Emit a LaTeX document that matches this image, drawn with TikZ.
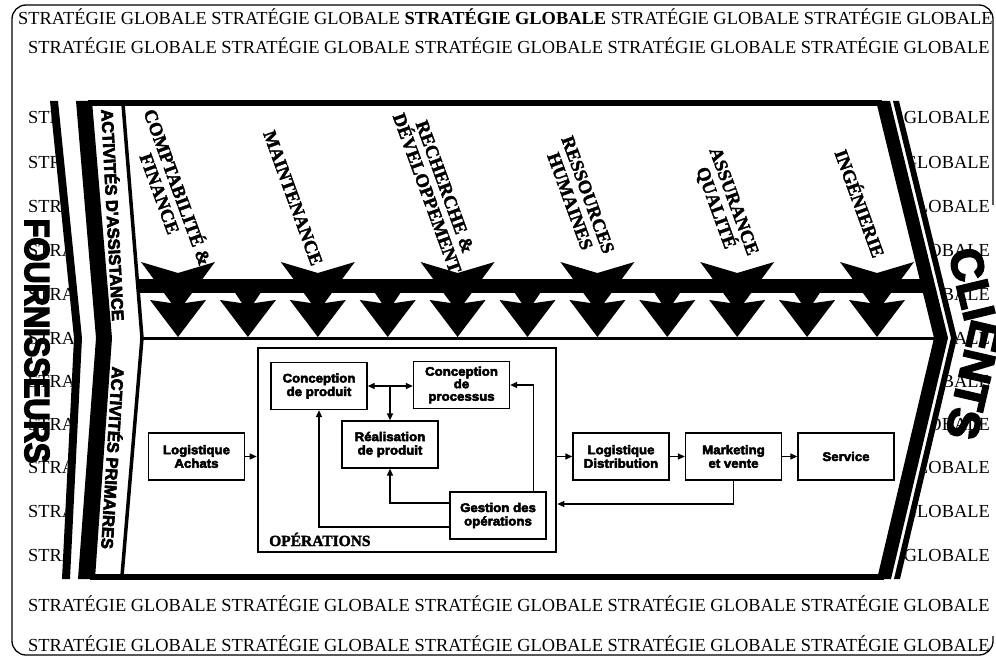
\documentclass[tikz,border=0pt]{standalone}
\usepackage{fontspec}
\setmainfont{Liberation Serif}
\newfontfamily\heavyfont{Liberation Sans}[BoldFeatures={FakeBold=4}]
\newfontfamily\bigfont{Liberation Sans}[BoldFeatures={FakeBold=4,FakeStretch=0.88}]
\newfontfamily\boxfont{Liberation Sans}[BoldFeatures={FakeBold=4,FakeStretch=1.06}]
\newfontfamily\labelserif{Liberation Serif}[BoldFeatures={FakeBold=2}]
\usetikzlibrary{arrows.meta}
\newcommand\stratrow{STRATÉGIE GLOBALE STRATÉGIE GLOBALE STRATÉGIE GLOBALE STRATÉGIE GLOBALE STRATÉGIE GLOBALE}
\newcommand\stratrowbold{STRATÉGIE GLOBALE STRATÉGIE GLOBALE \textbf{STRATÉGIE GLOBALE} STRATÉGIE GLOBALE STRATÉGIE GLOBALE}
\begin{document}
\begin{tikzpicture}[x=1pt,y=-1pt,
  strat/.style={inner sep=0pt,font=\fontsize{18.4}{18.4}\selectfont},
  suplabel/.style={rotate=-70,align=center,inner sep=0pt,font=\labelserif\bfseries\fontsize{18.5}{19}\selectfont},
  sidelabel/.style={inner sep=0pt,font=\heavyfont\bfseries\fontsize{16.5}{16.5}\selectfont},
  bigword/.style={inner sep=0pt,font=\bigfont\bfseries\fontsize{35}{35}\selectfont},
  clientword/.style={inner sep=0pt,font=\heavyfont\bfseries\fontsize{45}{45}\selectfont},
  activity/.style={draw,line width=1.3pt,minimum width=96pt,minimum height=47pt,align=center,inner sep=1pt,
    font=\boxfont\bfseries\fontsize{12.5}{13.5}\selectfont},
  flow/.style={line width=1.3pt,-{Triangle[length=7pt,width=6pt]}},
  twoflow/.style={line width=1.3pt,{Triangle[length=7pt,width=6pt]}-{Triangle[length=7pt,width=6pt]}},
]
% page
\fill[white] (0,0) rectangle (996,658);
\useasboundingbox (0,0) rectangle (996,658);

% outer frame, its right side only shown near the corners
\draw[line width=1.3pt,rounded corners=14pt]
  (993,205) -- (993,5) -- (12,5) -- (12,655) -- (993,655) -- (993,636);

% background strategy rows
\node[strat,anchor=base west] (r1) at (18,25) {\stratrowbold};
\foreach \yy [count=\i] in {54,611,651}
  \node[strat,anchor=base west] (full\i) at (28,\yy) {\stratrow};
\foreach \yy [count=\i] in {124,168,212,256,300,344,387,430,473,517,561} {
  \node[strat,anchor=base west] (left\i) at (28,\yy) {STRA};
  \node[strat,anchor=base east] (right\i) at (990,\yy) {GLOBALE};
}

% value chain body
\fill[white] (50,101) -- (899,101) -- (957,338) -- (900,579) -- (62,579) -- (74,338) -- cycle;

% big side words
\node[bigword,rotate=-90] (fourn) at (37,341) {FOURNISSEURS};
\node[clientword,rotate=-76.5] (cli) at (972,284) {CLI};
\node[clientword,rotate=-103] (ents) at (974,380) {ENTS};

% band of arrows feeding the primary activities
\begin{scope}
  \clip (123,103) -- (880,103) -- (940,338) -- (880,578) -- (122,578) -- (142,338) -- cycle;
  \fill (120,278.5) rectangle (945,293);
  \foreach \k in {0,...,10} {
    \pgfmathsetmacro\ax{178+69.9*\k}
    \ifodd\k
      \fill (\ax-22,279) -- (\ax,285) -- (\ax+22,279) -- (\ax,312) -- cycle;
    \else
      \fill (\ax-37,262) -- (\ax,273) -- (\ax+37,262) -- (\ax,312) -- cycle;
    \fi
    \fill (\ax-28,300) -- (\ax,304) -- (\ax+28,300) -- (\ax,337) -- cycle;
  }
\end{scope}

% left double stripe
\fill (50,101) -- (58,101) -- (82,338) -- (70,579) -- (62,579) -- (74,338) -- cycle;
\fill (76,101) -- (92,101) -- (112,338) -- (95,579) -- (78,579) -- (96,338) -- cycle;
% right double stripe
\fill (876,101) -- (890,101) -- (948,338) -- (891,579) -- (877,579) -- (934,338) -- cycle;
\fill (893,101) -- (899,101) -- (957,338) -- (900,579) -- (894,579) -- (951,338) -- cycle;
% top and bottom edges
\fill (88,100) rectangle (882,106);
\fill (90,574) rectangle (884,579.5);
% label column edge and divider
\draw[line width=3.5pt] (123,104) -- (142,338) -- (122,576);
\draw[line width=3pt] (140,338) -- (937,338);

% column titles
\node[sidelabel,rotate=-87] (assist) at (114,215) {ACTIVITÉS D'ASSISTANCE};
\node[sidelabel,rotate=-93.5] (prim) at (114,458) {ACTIVITÉS PRIMAIRES};

% support activities
\node[suplabel] (compta) at (170,190) {COMPTABILITÉ \&\\FINANCE};
\node[suplabel] (maint) at (293,198) {MAINTENANCE};
\node[suplabel] (rd) at (436,190) {RECHERCHE \&\\DÉVELOPPEMENT};
\node[suplabel] (rh) at (579,198) {RESSOURCES\\HUMAINES};
\node[suplabel] (aq) at (724,205) {ASSURANCE\\QUALITÉ};
\node[suplabel] (ing) at (861,203) {INGÉNIERIE};

% primary activities
\node[draw,line width=2.6pt,minimum width=298pt,minimum height=204pt] (ops) at (407,450) {};
\node[anchor=base west,inner sep=0pt,font=\labelserif\bfseries\fontsize{15.5}{15.5}\selectfont] (opslabel) at (269,546) {OPÉRATIONS};

\node[activity] (achats) at (196.5,456.5) {Logistique\\Achats};
\node[activity] (cprod) at (319,386) {Conception\\de produit};
\node[activity,font=\boxfont\bfseries\fontsize{12.5}{12.5}\selectfont] (cproc) at (461.5,385) {Conception\\de\\processus};
\node[activity] (real) at (390,444.5) {Réalisation\\de produit};
\node[activity] (gest) at (498,515.5) {Gestion des\\opérations};
\node[activity] (distrib) at (621,456.5) {Logistique\\Distribution};
\node[activity] (market) at (733.5,456.5) {Marketing\\et vente};
\node[activity] (serv) at (846,456.5) {Service};

% flows
\draw[flow] (achats.east) -- (achats.east -| ops.west);
\draw[flow] (distrib.west -| ops.east) -- (distrib.west);
\draw[flow] (distrib.east) -- (market.west);
\draw[flow] (market.east) -- (serv.west);
\draw[twoflow] (cprod.east) -- (cprod.east -| cproc.west);
\draw[flow] (real.north |- cprod.east) -- (real.north);
\draw[flow] ([xshift=-13pt]gest.north east) |- (cproc.east);
\draw[flow] ([yshift=12.5pt]gest.west) -| (real.south);
\draw[flow] ([yshift=-11.5pt]gest.west) -| (cprod.south);
\draw[flow] (market.south) |- ([yshift=-54pt]ops.east);
\end{tikzpicture}
\end{document}
